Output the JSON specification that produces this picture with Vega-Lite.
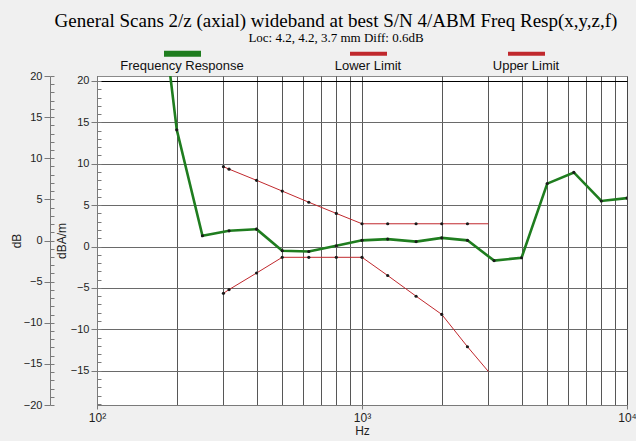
{
  "$schema": "https://vega.github.io/schema/vega-lite/v6.json",
  "width": 530,
  "height": 329,
  "autosize": {"type": "none"},
  "padding": {"left": 97, "top": 76, "right": 9, "bottom": 36},
  "background": "#f0f0f0",
  "title": {
    "text": "General Scans 2/z (axial) wideband at best S/N 4/ABM Freq Resp(x,y,z,f)",
    "subtitle": "Loc: 4.2, 4.2, 3.7 mm Diff: 0.6dB",
    "font": "Liberation Serif",
    "fontSize": 19,
    "fontWeight": "normal",
    "color": "#000000",
    "subtitleFont": "Liberation Serif",
    "subtitleFontSize": 13,
    "subtitleColor": "#000000",
    "subtitlePadding": 1,
    "anchor": "middle",
    "frame": "group",
    "offset": 2,
    "dx": -26
  },
  "datasets": {
    "curves": [
      {"series": "Frequency Response", "hz": 160, "db": 40},
      {"series": "Frequency Response", "hz": 200, "db": 14.1},
      {"series": "Frequency Response", "hz": 250, "db": 1.3},
      {"series": "Frequency Response", "hz": 315, "db": 1.9},
      {"series": "Frequency Response", "hz": 400, "db": 2.1},
      {"series": "Frequency Response", "hz": 500, "db": -0.5},
      {"series": "Frequency Response", "hz": 630, "db": -0.6},
      {"series": "Frequency Response", "hz": 800, "db": 0.1},
      {"series": "Frequency Response", "hz": 1000, "db": 0.75},
      {"series": "Frequency Response", "hz": 1250, "db": 0.9},
      {"series": "Frequency Response", "hz": 1600, "db": 0.6},
      {"series": "Frequency Response", "hz": 2000, "db": 1.05},
      {"series": "Frequency Response", "hz": 2500, "db": 0.75},
      {"series": "Frequency Response", "hz": 3150, "db": -1.7},
      {"series": "Frequency Response", "hz": 4000, "db": -1.35},
      {"series": "Frequency Response", "hz": 5000, "db": 7.6},
      {"series": "Frequency Response", "hz": 6300, "db": 8.95},
      {"series": "Frequency Response", "hz": 8000, "db": 5.5},
      {"series": "Frequency Response", "hz": 10000, "db": 5.85},
      {"series": "Lower Limit", "hz": 300, "db": -5.65},
      {"series": "Lower Limit", "hz": 315, "db": -5.2},
      {"series": "Lower Limit", "hz": 400, "db": -3.2},
      {"series": "Lower Limit", "hz": 500, "db": -1.3},
      {"series": "Lower Limit", "hz": 630, "db": -1.3},
      {"series": "Lower Limit", "hz": 800, "db": -1.3},
      {"series": "Lower Limit", "hz": 1000, "db": -1.3},
      {"series": "Lower Limit", "hz": 1250, "db": -3.5},
      {"series": "Lower Limit", "hz": 1600, "db": -6.0},
      {"series": "Lower Limit", "hz": 2000, "db": -8.2},
      {"series": "Lower Limit", "hz": 2500, "db": -12.1},
      {"series": "Lower Limit", "hz": 3000, "db": -15.1},
      {"series": "Upper Limit", "hz": 300, "db": 9.65},
      {"series": "Upper Limit", "hz": 315, "db": 9.35},
      {"series": "Upper Limit", "hz": 400, "db": 8.0},
      {"series": "Upper Limit", "hz": 500, "db": 6.7},
      {"series": "Upper Limit", "hz": 630, "db": 5.35},
      {"series": "Upper Limit", "hz": 800, "db": 4.0},
      {"series": "Upper Limit", "hz": 1000, "db": 2.75},
      {"series": "Upper Limit", "hz": 1250, "db": 2.75},
      {"series": "Upper Limit", "hz": 1600, "db": 2.75},
      {"series": "Upper Limit", "hz": 2000, "db": 2.75},
      {"series": "Upper Limit", "hz": 2500, "db": 2.75},
      {"series": "Upper Limit", "hz": 3000, "db": 2.75}
    ]
  },
  "data": {"name": "curves"},
  "config": {
    "view": {"fill": "#ffffff", "stroke": "#8a8a8a"},
    "axis": {
      "labelFont": "Liberation Sans",
      "labelFontSize": 11,
      "labelColor": "#1e1e1e",
      "titleFont": "Liberation Sans",
      "titleFontSize": 12,
      "titleFontWeight": "normal",
      "titleColor": "#1e1e1e",
      "domainColor": "#7a7a7a",
      "tickColor": "#7a7a7a"
    }
  },
  "resolve": {"scale": {"y": "independent"}},
  "layer": [
    {
      "layer": [
        {
          "transform": [{"filter": "datum.series != 'Frequency Response'"}],
          "mark": {"type": "line", "strokeWidth": 1, "clip": true},
          "encoding": {
            "x": {
              "field": "hz",
              "type": "quantitative",
              "scale": {"type": "log", "domain": [100, 10000], "nice": false},
              "axis": {
                "values": [100, 200, 300, 400, 500, 600, 700, 800, 900, 1000, 2000, 3000, 4000, 5000, 6000, 7000, 8000, 9000, 10000],
                "labelExpr": "datum.value == 100 ? '10²' : datum.value == 1000 ? '10³' : datum.value == 10000 ? '10⁴' : ''",
                "labelOverlap": false,
                "labelFlush": false,
                "labelFontSize": 12,
                "labelPadding": 3,
                "tickSize": 4,
                "tickOpacity": {"condition": {"test": "datum.value == 100 || datum.value == 1000 || datum.value == 10000", "value": 1}, "value": 0},
                "grid": true,
                "gridColor": "#3a3a3a",
                "gridOpacity": 0.85,
                "title": "Hz",
                "titlePadding": 2
              }
            },
            "y": {
              "field": "db",
              "type": "quantitative",
              "scale": {"domain": [-19.14, 20.6], "nice": false, "zero": false},
              "axis": {
                "orient": "left",
                "values": [-15, -10, -5, 0, 5, 10, 15, 20],
                "title": "dBA/m",
                "titlePadding": 2,
                "tickSize": 6,
                "labelPadding": 2,
                "grid": true,
                "gridColor": {"condition": {"test": "datum.value == 20", "value": "#000000"}, "value": "#6a6a6a"}
              }
            },
            "color": {
              "field": "series",
              "type": "nominal",
              "scale": {
                "domain": ["Frequency Response", "Lower Limit", "Upper Limit"],
                "range": ["#1f7d1f", "#c0282d", "#c0282d"]
              },
              "legend": {
                "orient": "none",
                "legendX": 79,
                "legendY": -29,
                "direction": "horizontal",
                "title": null,
                "symbolType": "stroke",
                "symbolSize": 1369,
                "symbolStrokeWidth": 5,
                "labelFont": "Liberation Sans",
                "labelFontSize": 13,
                "labelColor": "#111111",
                "labelAlign": "center",
                "labelBaseline": "top",
                "labelOffset": -7,
                "columnPadding": 90,
                "encode": {
                  "labels": {"update": {"dy": {"value": 6}}},
                  "symbols": {"update": {"strokeWidth": {"signal": "datum.value === 'Frequency Response' ? 6 : 4"}}}
                }
              }
            }
          }
        },
        {
          "transform": [{"filter": "datum.series == 'Frequency Response'"}],
          "mark": {"type": "line", "strokeWidth": 2.6, "clip": true},
          "encoding": {
            "x": {"field": "hz", "type": "quantitative"},
            "y": {"field": "db", "type": "quantitative"},
            "color": {"field": "series", "type": "nominal"}
          }
        },
        {
          "transform": [{"filter": "datum.hz >= 200 && (datum.series == 'Frequency Response' || datum.hz != 3000)"}],
          "mark": {"type": "point", "filled": true, "size": 10, "color": "#1a1a1a", "opacity": 1, "clip": true},
          "encoding": {
            "x": {"field": "hz", "type": "quantitative"},
            "y": {"field": "db", "type": "quantitative"}
          }
        }
      ]
    },
    {
      "transform": [{"filter": "datum.db <= 20"}],
      "mark": {"type": "point", "opacity": 0, "clip": true},
      "encoding": {
        "y": {
          "field": "db",
          "type": "quantitative",
          "scale": {"domain": [-19.14, 20.6], "nice": false, "zero": false},
          "axis": {
            "orient": "left",
            "values": [-19, -18, -17, -16, -15, -14, -13, -12, -11, -10, -9, -8, -7, -6, -5, -4, -3, -2, -1, 0, 1, 2, 3, 4, 5, 6, 7, 8, 9, 10, 11, 12, 13, 14, 15, 16, 17, 18, 19, 20],
            "labels": false,
            "domain": false,
            "grid": false,
            "tickSize": -4,
            "title": null
          }
        }
      }
    },
    {
      "transform": [{"filter": "datum.db <= 20"}],
      "mark": {"type": "point", "opacity": 0, "clip": true},
      "encoding": {
        "y": {
          "field": "db",
          "type": "quantitative",
          "scale": {"domain": [-20, 20], "nice": false, "zero": false},
          "axis": {
            "orient": "left",
            "offset": 47,
            "values": [-20, -15, -10, -5, 0, 5, 10, 15, 20],
            "grid": false,
            "tickSize": 6,
            "labelPadding": 2,
            "title": "dB",
            "titlePadding": 0
          }
        }
      }
    },
    {
      "transform": [{"filter": "datum.db <= 20"}],
      "mark": {"type": "point", "opacity": 0, "clip": true},
      "encoding": {
        "y": {
          "field": "db",
          "type": "quantitative",
          "scale": {"domain": [-20, 20], "nice": false, "zero": false},
          "axis": {
            "orient": "left",
            "offset": 47,
            "values": [-20, -19, -18, -17, -16, -15, -14, -13, -12, -11, -10, -9, -8, -7, -6, -5, -4, -3, -2, -1, 0, 1, 2, 3, 4, 5, 6, 7, 8, 9, 10, 11, 12, 13, 14, 15, 16, 17, 18, 19, 20],
            "labels": false,
            "domain": false,
            "grid": false,
            "tickSize": -4,
            "title": null
          }
        }
      }
    }
  ]
}
